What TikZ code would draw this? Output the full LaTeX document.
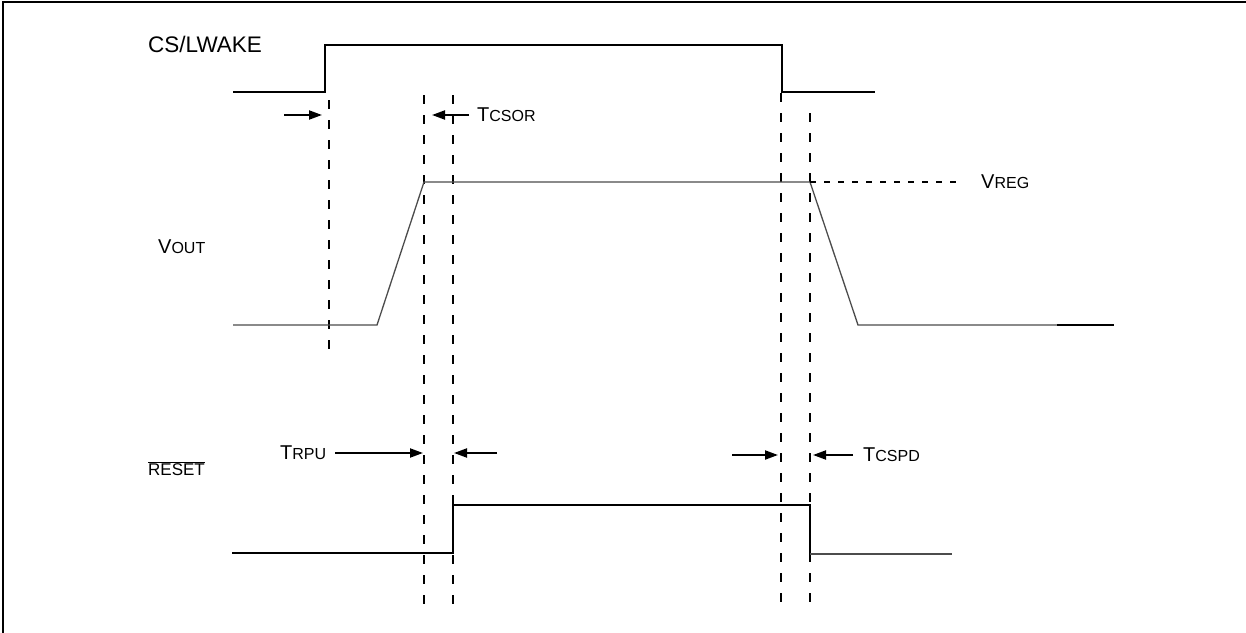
\documentclass[tikz,border=0pt]{standalone}
\usepackage{fontspec}
\setmainfont{Liberation Sans}
\usetikzlibrary{arrows.meta}

\newcommand{\capsub}[2]{{\fontsize{20}{24}\selectfont #1}{\fontsize{16}{19}\selectfont #2}}

\tikzset{
  sig/.style={line width=2pt},
  ana/.style={line width=1.3pt, black!70},
  guide/.style={line width=2pt, dash pattern=on 9pt off 11pt},
  tm/.style={line width=2pt, -{Triangle[length=13pt,width=9pt]}},
  lbl/.style={anchor=west, inner sep=0pt},
}

\begin{document}
\begin{tikzpicture}[x=1pt,y=-1pt]
          \useasboundingbox (0,0) rectangle (1246,632);
          \draw [line width=2pt] (3,2) rectangle (1260,650);

          % signal names
          \node (cs)    [lbl] at (148,44)  {\fontsize{22.5}{26}\selectfont CS/LWAKE};
          \node (vout)  [lbl] at (158,247) {\capsub{V}{OUT}};
          \node (rst)   [lbl] at (148,469) {\fontsize{17}{20}\selectfont$\overline{\mbox{\fontsize{17}{20}\selectfont RESET}}$};
          \node (vreg)  [lbl] at (981,182) {\capsub{V}{REG}};

          % timing names
          \node (tcsor) [lbl] at (477,115) {\capsub{T}{CSOR}};
          \node (trpu)  [lbl] at (280,453) {\capsub{T}{RPU}};
          \node (tcspd) [lbl] at (863,455) {\capsub{T}{CSPD}};

          % guide lines
          \draw [guide] (329,100) -- (329,355);
          \draw [guide] (424,95)  -- (424,606);
          \draw [guide] (453,95)  -- (453,606);
          \draw [guide] (781,93)  -- (781,606);
          \draw [guide] (810,113) -- (810,606);

          % waveforms
          \coordinate (vr) at (963,182);
          \draw [sig] (233,92) -- (325,92) -- (325,45) -- (782,45) -- (782,92) -- (875,92);
          \draw [ana] (233,325) -- (377,325) -- (424,182) -- (810,182) -- (858,325) -- (1057,325);
          \draw [sig] (1057,325) -- (1114,325);
          \draw [line width=1.5pt, dash pattern=on 6pt off 8pt] (810,182) -- (vr);
          \draw [sig] (232,553) -- (453,553) -- (453,505) -- (810,505) -- (810,554);
          \draw [ana] (810,554) -- (952,554);

          % timing arrows
          \coordinate (a1) at (284,115);
          \coordinate (a2) at (322,115);
          \coordinate (b1) at (432,115);
          \coordinate (c1) at (423,453);
          \coordinate (c2) at (497,453);
          \coordinate (c3) at (454,453);
          \coordinate (d1) at (732,455);
          \coordinate (d2) at (778,455);
          \coordinate (d3) at (813,455);

          \draw [tm] (a1) -- (a2);
          \draw [tm] ([xshift=-8pt]tcsor.west) -- (b1);
          \draw [tm] ([xshift=9pt]trpu.east) -- (c1);
          \draw [tm] (c2) -- (c3);
          \draw [tm] (d1) -- (d2);
          \draw [tm] ([xshift=-10pt]tcspd.west) -- (d3);
        \end{tikzpicture}
\end{document}
